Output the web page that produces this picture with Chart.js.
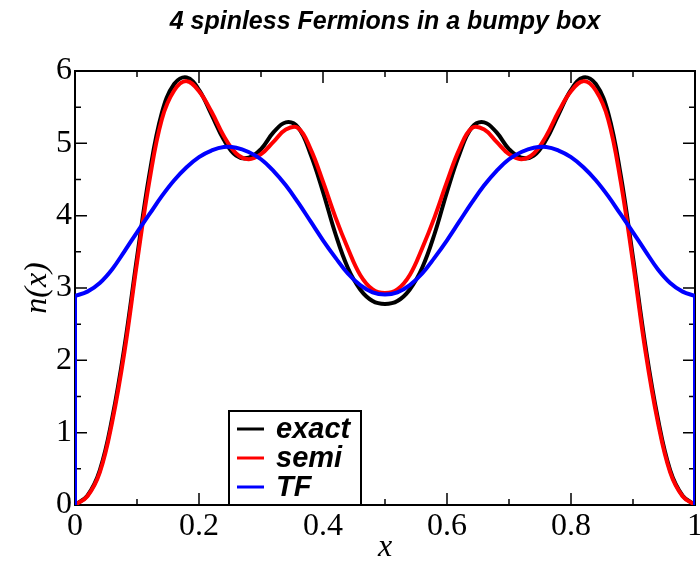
<!DOCTYPE html>
<html>
<head>
<meta charset="utf-8">
<script src="https://cdn.jsdelivr.net/npm/chart.js@4/dist/chart.umd.min.js"></script>
<style>
  html, body { margin: 0; padding: 0; background: #fff; }
</style>
</head>
<body>
<canvas id="myChart" width="700" height="561"></canvas>
<script>
// positions along the box
const xs = [0, 0.02, 0.04, 0.06, 0.08, 0.10, 0.12, 0.14, 0.16, 0.18,
  0.20, 0.22, 0.24, 0.26, 0.28, 0.30, 0.32, 0.34, 0.36, 0.38,
  0.40, 0.42, 0.44, 0.46, 0.48, 0.50, 0.52, 0.54, 0.56, 0.58,
  0.60, 0.62, 0.64, 0.66, 0.68, 0.70, 0.72, 0.74, 0.76, 0.78,
  0.80, 0.82, 0.84, 0.86, 0.88, 0.90, 0.92, 0.94, 0.96, 0.98, 1.00];

const exact = [0, 0.13, 0.48, 1.2, 2.2, 3.42, 4.57, 5.42, 5.82, 5.91,
  5.74, 5.40, 5.05, 4.83, 4.80, 4.92, 5.15, 5.29, 5.22, 4.85,
  4.33, 3.75, 3.28, 2.98, 2.82, 2.78, 2.82, 2.98, 3.28, 3.75,
  4.33, 4.85, 5.22, 5.29, 5.15, 4.92, 4.80, 4.83, 5.05, 5.40,
  5.74, 5.91, 5.82, 5.42, 4.57, 3.42, 2.2, 1.2, 0.48, 0.13, 0];

const semi = [0, 0.12, 0.45, 1.15, 2.13, 3.35, 4.48, 5.33, 5.73, 5.86,
  5.72, 5.44, 5.10, 4.86, 4.78, 4.85, 5.02, 5.19, 5.21, 4.92,
  4.47, 3.98, 3.55, 3.18, 2.98, 2.93, 2.98, 3.18, 3.55, 3.98,
  4.47, 4.92, 5.21, 5.19, 5.02, 4.85, 4.78, 4.86, 5.10, 5.44,
  5.72, 5.86, 5.73, 5.33, 4.48, 3.35, 2.13, 1.15, 0.45, 0.12, 0];

const tf = [2.89, 2.95, 3.07, 3.26, 3.51, 3.77, 4.02, 4.27, 4.49, 4.67,
  4.81, 4.90, 4.95, 4.94, 4.88, 4.78, 4.62, 4.42, 4.18, 3.92,
  3.66, 3.42, 3.20, 3.04, 2.94, 2.91, 2.94, 3.04, 3.20, 3.42,
  3.66, 3.92, 4.18, 4.42, 4.62, 4.78, 4.88, 4.94, 4.95, 4.90,
  4.81, 4.67, 4.49, 4.27, 4.02, 3.77, 3.51, 3.26, 3.07, 2.95, 2.89];

// TF density drops to zero at the walls
const tfWallLeft = [{ x: 0, y: 0 }, { x: 0, y: 2.89 }];
const tfWallRight = [{ x: 1, y: 2.89 }, { x: 1, y: 0 }];

const xTicks = [0, 0.2, 0.4, 0.6, 0.8, 1];
const xMinorTicks = [0.1, 0.3, 0.5, 0.7, 0.9];
const yTicks = [0, 1, 2, 3, 4, 5, 6];
const yMinorTicks = [0.5, 1.5, 2.5, 3.5, 4.5, 5.5];

const titleText = '4 spinless Fermions in a bumpy box';

const toPoints = (ys) => xs.map((x, i) => ({ x, y: ys[i] }));

const curve = (label, data, color, order) => ({
  label,
  data,
  borderColor: color,
  backgroundColor: color,
  borderWidth: 4,
  pointRadius: 0,
  tension: 0.4,
  order,
});

// frame, inward ticks on all sides, title and legend box
const grace = {
  id: 'grace',
  beforeDatasetsDraw(chart) {
    const { ctx, chartArea: a, scales: { x, y } } = chart;
    ctx.save();
    ctx.strokeStyle = '#000';
    ctx.lineWidth = 2;
    ctx.strokeRect(a.left, a.top, a.right - a.left, a.bottom - a.top);
    ctx.lineWidth = 1.5;
    ctx.beginPath();
    const xt = (list, len) => list.forEach(v => {
      const px = x.getPixelForValue(v);
      ctx.moveTo(px, a.bottom); ctx.lineTo(px, a.bottom - len);
      ctx.moveTo(px, a.top); ctx.lineTo(px, a.top + len);
    });
    const yt = (list, len) => list.forEach(v => {
      const py = y.getPixelForValue(v);
      ctx.moveTo(a.left, py); ctx.lineTo(a.left + len, py);
      ctx.moveTo(a.right, py); ctx.lineTo(a.right - len, py);
    });
    xt(xTicks, 12); xt(xMinorTicks, 6);
    yt(yTicks, 12); yt(yMinorTicks, 6);
    ctx.stroke();

    ctx.fillStyle = '#000';
    ctx.font = 'italic bold 25px "Liberation Sans"';
    ctx.textAlign = 'center';
    ctx.textBaseline = 'middle';
    ctx.fillText(titleText, (a.left + a.right) / 2, 22);
    ctx.restore();
  },
  afterDatasetsDraw(chart) {
    const { ctx, chartArea: a } = chart;
    const items = chart.data.datasets.filter(d => d.label);
    const bx = 229, by = 411, bw = 132, bh = a.bottom - by;
    ctx.save();
    ctx.fillStyle = '#fff';
    ctx.fillRect(bx, by, bw, bh);
    ctx.strokeStyle = '#000';
    ctx.lineWidth = 2;
    ctx.strokeRect(bx, by, bw, bh);
    ctx.font = 'italic bold 29px "Liberation Sans"';
    ctx.textBaseline = 'middle';
    items.forEach((d, i) => {
      const yy = by + 18 + i * 29;
      ctx.strokeStyle = d.borderColor;
      ctx.lineWidth = 3;
      ctx.beginPath();
      ctx.moveTo(bx + 8, yy);
      ctx.lineTo(bx + 35, yy);
      ctx.stroke();
      ctx.fillStyle = '#000';
      ctx.fillText(d.label, bx + 47, yy + 1);
    });
    ctx.restore();
  }
};

const fmt = v => String(Number(v.toFixed(1)));

new Chart(document.getElementById('myChart').getContext('2d'), {
  type: 'line',
  data: {
    datasets: [
      curve('exact', toPoints(exact), '#000000', 3),
      curve('semi', toPoints(semi), '#ff0000', 2),
      curve('TF', toPoints(tf), '#0000ff', 1),
      curve('', tfWallLeft, '#0000ff', 1),
      curve('', tfWallRight, '#0000ff', 1),
    ],
  },
  options: {
    responsive: false,
    animation: false,
    layout: { padding: { top: 71, right: 5, left: 0, bottom: 0 } },
    plugins: { legend: { display: false }, title: { display: false }, tooltip: { enabled: false } },
    scales: {
      x: {
        type: 'linear',
        min: 0, max: 1,
        grid: { display: false, drawTicks: false },
        border: { display: false },
        ticks: {
          stepSize: 0.2, autoSkip: false, maxRotation: 0, padding: 2,
          color: '#000', font: { family: '"Liberation Serif"', size: 32 },
          callback: fmt,
        },
        title: {
          display: true, text: 'x', color: '#000',
          font: { family: '"Liberation Serif"', size: 32, style: 'italic', lineHeight: 1 },
          padding: { top: 0, bottom: -3 },
        },
        afterFit(s) { s.height = 56; s.paddingLeft = 0; s.paddingRight = 0; },
      },
      y: {
        type: 'linear',
        min: 0, max: 6,
        grid: { display: false, drawTicks: false },
        border: { display: false },
        ticks: {
          stepSize: 1, padding: 3,
          color: '#000', font: { family: '"Liberation Serif"', size: 32 },
          callback: fmt,
        },
        title: {
          display: true, text: 'n(x)', color: '#000',
          font: { family: '"Liberation Serif"', size: 32, style: 'italic', lineHeight: 1 },
          padding: { top: 22, bottom: 0 },
        },
        afterFit(s) { s.width = 75; s.paddingTop = 0; s.paddingBottom = 0; },
      },
    },
  },
  plugins: [grace],
});
</script>
</body>
</html>
